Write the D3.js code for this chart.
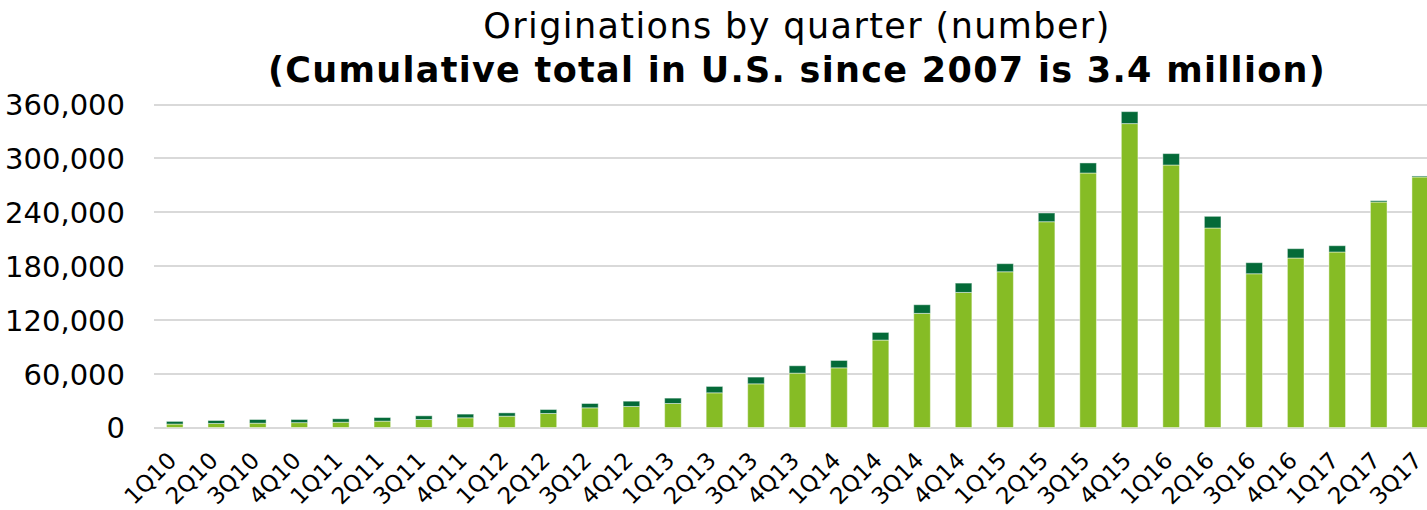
<!DOCTYPE html>
<meta charset="utf-8">
<head>
<style>
  body { margin: 0; background: #fff; }
  svg { display: block; }
  svg text { font-family: "DejaVu Sans", Verdana, sans-serif; fill: #000; }
  .grid line { stroke: #d9d9d9; stroke-width: 2px; shape-rendering: crispEdges; }
  .grid path { display: none; }
  .yaxis path, .yaxis line, .xaxis path, .xaxis line { display: none; }
  .yaxis text { font-size: 29px; }
  .xaxis text { font-size: 23px; }
</style>
</head>
<body>
<svg id="chart" width="1427" height="510"></svg>
<script src="https://d3js.org/d3.v7.min.js"></script>
<script>
// quarters on the x axis
var quarters = ["1Q10","2Q10","3Q10","4Q10","1Q11","2Q11","3Q11","4Q11","1Q12","2Q12",
  "3Q12","4Q12","1Q13","2Q13","3Q13","4Q13","1Q14","2Q14","3Q14","4Q14",
  "1Q15","2Q15","3Q15","4Q15","1Q16","2Q16","3Q16","4Q16","1Q17","2Q17","3Q17"];

// lower (light green) part of each bar
var lowerVals = [3800,4500,4800,5400,5900,7100,8900,10800,12600,15600,
  21900,23400,26700,38600,48600,60500,66400,97300,127000,150300,
  173300,229000,283200,338200,292100,222000,171100,188600,195300,250900,278800];

// upper (dark green) part of each bar
var upperVals = [3000,3300,4100,3500,3800,4000,4100,4100,3700,4400,
  4800,5900,6000,7100,7500,8200,8200,8500,9600,10400,
  9000,9700,11200,13300,12700,13000,12300,10400,7000,1500,1100];

var yTicks = [0,60000,120000,180000,240000,300000,360000];

var svg = d3.select("#chart"),
    margin = {top: 104, left: 154, bottom: 427.5},
    plotRight = 1441;

var x = d3.scaleBand().domain(quarters).range([margin.left, plotRight]).paddingInner(0.6).paddingOuter(0.3);
var y = d3.scaleLinear().domain([0, 360000]).range([margin.bottom, margin.top]);

// gridlines
svg.append("g")
    .attr("class", "grid")
    .attr("transform", "translate(" + margin.left + ",0)")
    .call(d3.axisLeft(y).tickValues(yTicks).tickSize(-(plotRight - margin.left)).tickFormat(""));

// y axis labels
svg.append("g")
    .attr("class", "yaxis")
    .attr("transform", "translate(" + (margin.left - 29) + ",0)")
    .call(d3.axisLeft(y).tickValues(yTicks).tickSize(0).tickPadding(0).tickFormat(d3.format(",")))
    .selectAll("text").attr("dy", "0.36em");

var stack = quarters.map(function(q, i) {
  return {q: q, lower: lowerVals[i], upper: upperVals[i]};
});

var bars = svg.append("g");
bars.selectAll(".lower")
    .data(stack)
    .enter().append("rect")
    .attr("class", "lower")
    .attr("x", function(d) { return x(d.q); })
    .attr("width", x.bandwidth())
    .attr("y", function(d) { return y(d.lower); })
    .attr("height", function(d) { return y(0) - y(d.lower); })
    .attr("fill", "#86bc25")
    .attr("stroke", "rgba(255,255,255,0.45)")
    .attr("stroke-width", 1);

bars.selectAll(".upper")
    .data(stack)
    .enter().append("rect")
    .attr("class", "upper")
    .attr("x", function(d) { return x(d.q); })
    .attr("width", x.bandwidth())
    .attr("y", function(d) { return y(d.lower + d.upper); })
    .attr("height", function(d) { return y(d.lower) - y(d.lower + d.upper); })
    .attr("fill", "#046a38")
    .attr("stroke", "rgba(255,255,255,0.45)")
    .attr("stroke-width", 1);

// x axis labels, rotated
svg.append("g")
    .attr("class", "xaxis")
    .call(d3.axisBottom(x).tickSize(0).tickPadding(0))
    .selectAll("text")
    .attr("text-anchor", "end")
    .attr("y", 0)
    .attr("dy", 0)
    .attr("transform", "translate(3,462) rotate(-45)");

// titles
svg.append("text")
    .attr("x", 797).attr("y", 38)
    .attr("text-anchor", "middle")
    .style("font-size", "35px")
    .style("letter-spacing", "1.4px")
    .text("Originations by quarter (number)");

svg.append("text")
    .attr("x", 797).attr("y", 82)
    .attr("text-anchor", "middle")
    .style("font-size", "35px")
    .style("font-weight", "bold")
    .style("letter-spacing", "1.3px")
    .text("(Cumulative total in U.S. since 2007 is 3.4 million)");
</script>
</body>
